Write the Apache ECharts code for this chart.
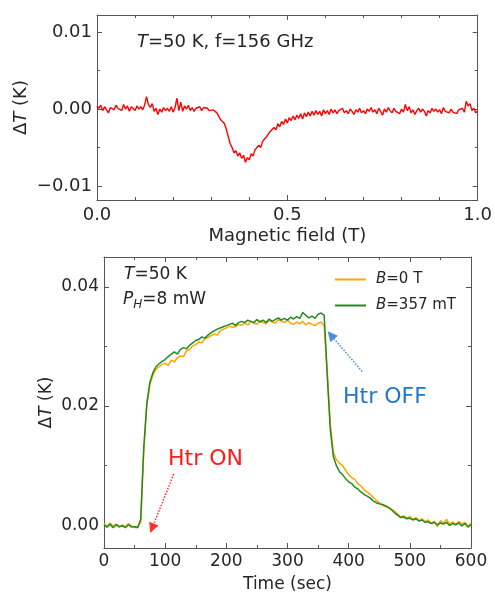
<!DOCTYPE html>
<html>
<head>
<meta charset="utf-8">
<script src="https://cdn.jsdelivr.net/npm/echarts@6/dist/echarts.min.js"></script>
<style>
html,body{margin:0;padding:0;background:#fff;}
#c{width:495px;height:594px;}
</style>
</head>
<body>
<div id="c"></div>
<script>
// ---------- data: top panel (field sweep), dT in units of 1e-4 K ----------
const fieldT = [
0.000,0.005,0.010,0.015,0.020,0.025,0.030,0.035,0.040,0.045,
0.050,0.055,0.060,0.065,0.070,0.075,0.080,0.085,0.090,0.095,
0.100,0.105,0.110,0.115,0.120,0.125,0.130,0.135,0.140,0.145,
0.150,0.155,0.160,0.165,0.170,0.175,0.180,0.185,0.190,0.195,
0.200,0.205,0.210,0.215,0.220,0.225,0.230,0.235,0.240,0.245,
0.250,0.255,0.260,0.265,0.270,0.275,0.280,0.285,0.290,0.295,
0.300,0.305,0.310,0.315,0.320,0.325,0.330,0.335,0.340,0.345,
0.350,0.355,0.360,0.365,0.370,0.375,0.380,0.385,0.390,0.395,
0.400,0.405,0.410,0.415,0.420,0.425,0.430,0.435,0.440,0.445,
0.450,0.455,0.460,0.465,0.470,0.475,0.480,0.485,0.490,0.495,
0.500,0.505,0.510,0.515,0.520,0.525,0.530,0.535,0.540,0.545,
0.550,0.555,0.560,0.565,0.570,0.575,0.580,0.585,0.590,0.595,
0.600,0.605,0.610,0.615,0.620,0.625,0.630,0.635,0.640,0.645,
0.650,0.655,0.660,0.665,0.670,0.675,0.680,0.685,0.690,0.695,
0.700,0.705,0.710,0.715,0.720,0.725,0.730,0.735,0.740,0.745,
0.750,0.755,0.760,0.765,0.770,0.775,0.780,0.785,0.790,0.795,
0.800,0.805,0.810,0.815,0.820,0.825,0.830,0.835,0.840,0.845,
0.850,0.855,0.860,0.865,0.870,0.875,0.880,0.885,0.890,0.895,
0.900,0.905,0.910,0.915,0.920,0.925,0.930,0.935,0.940,0.945,
0.950,0.955,0.960,0.965,0.970,0.975,0.980,0.985,0.990,0.995,
1.000];
const dTField_e4 = [
4,1,5,-2,3,-1,-5,2,4,-1,
5,1,3,-2,6,0,4,-3,3,1,
-2,4,0,3,-1,5,16,6,2,7,
-3,1,-7,0,-4,2,-2,1,-3,3,
-4,2,14,-2,9,-3,4,0,5,-2,
2,-3,1,-1,3,-2,2,0,1,-2,
0,-1,-3,-5,-7,-14,-12,-19,-27,-36,
-45,-50,-57,-54,-61,-57,-64,-60,-69,-63,
-66,-58,-61,-53,-55,-47,-50,-42,-44,-36,
-38,-29,-31,-24,-27,-19,-23,-16,-20,-13,
-18,-11,-15,-9,-14,-8,-12,-6,-13,-5,
-10,-4,-9,-3,-8,-2,-7,-3,-9,-1,
-6,-2,-7,0,-5,-1,-6,-2,-4,1,
-5,-2,-6,0,-3,-7,-1,-4,1,-5,
-2,-6,0,-3,2,-4,-1,-6,1,-3,
-8,0,-4,2,-2,-5,1,-3,-1,-6,
0,-4,6,-2,3,-5,-1,-7,-2,1,
-4,0,-3,-9,-2,-5,1,-3,0,-4,
-1,-6,2,-3,-1,-5,0,-4,-2,-6,
-1,-3,1,-4,10,4,7,-2,1,-5,
-2];

// ---------- data: bottom panel (time trace), dT in K ----------
const timeSec = [0,5,10,15,20,25,30,35,40,45,50,55,60,65,70,75,80,85,90,95,
100,105,110,115,120,125,130,135,140,145,150,155,160,165,170,175,180,185,190,195,
200,205,210,215,220,225,230,235,240,245,250,255,260,265,270,275,280,285,290,295,
300,305,310,315,320,325,330,335,340,345,350,355,360,365,370,375,380,385,390,395,
400,405,410,415,420,425,430,435,440,445,450,455,460,465,470,475,480,485,490,495,
500,505,510,515,520,525,530,535,540,545,550,555,560,565,570,575,580,585,590,595,600];
const dT_B0 = [0.0003,-0.0002,0.0004,-0.0001,0.0002,-0.0003,0.0001,-0.0002,0.0003,-0.0001,-0.0004,-0.0002,0.0005,0.0125,0.0200,0.0236,0.0252,0.0262,0.0266,0.0270,
0.0272,0.0268,0.0277,0.0274,0.0281,0.0284,0.0283,0.0293,0.0295,0.0301,0.0303,0.0308,0.0306,0.0313,0.0315,0.0318,0.0321,0.0319,0.0326,0.0329,
0.0331,0.0334,0.0332,0.0333,0.0337,0.0335,0.0340,0.0336,0.0342,0.0339,0.0337,0.0343,0.0340,0.0338,0.0344,0.0341,0.0339,0.0345,0.0342,0.0340,
0.0344,0.0339,0.0337,0.0341,0.0338,0.0342,0.0336,0.0340,0.0337,0.0335,0.0339,0.0341,0.0334,0.0260,0.0170,0.0122,0.0110,0.0104,0.0100,0.0092,
0.0085,0.0080,0.0077,0.0070,0.0066,0.0060,0.0056,0.0052,0.0047,0.0042,0.0038,0.0034,0.0031,0.0030,0.0027,0.0024,0.0019,0.0014,0.0016,0.0012,
0.0015,0.0010,0.0013,0.0008,0.0011,0.0006,0.0009,0.0003,0.0007,-0.0002,0.0008,0.0004,0.0010,0.0002,0.0006,0.0001,0.0007,0.0002,0.0005,-0.0001,0.0003];
const dT_B357 = [0.0001,-0.0003,0.0002,-0.0004,0.0001,-0.0002,-0.0001,-0.0004,0.0001,-0.0003,-0.0002,-0.0004,0.0010,0.0130,0.0205,0.0240,0.0256,0.0266,0.0271,0.0275,
0.0278,0.0283,0.0287,0.0291,0.0287,0.0295,0.0298,0.0296,0.0302,0.0306,0.0310,0.0312,0.0316,0.0314,0.0319,0.0323,0.0326,0.0329,0.0331,0.0333,
0.0335,0.0337,0.0339,0.0335,0.0340,0.0342,0.0340,0.0344,0.0342,0.0340,0.0345,0.0341,0.0344,0.0340,0.0346,0.0342,0.0345,0.0348,0.0344,0.0347,
0.0344,0.0349,0.0346,0.0350,0.0347,0.0357,0.0352,0.0348,0.0351,0.0347,0.0354,0.0356,0.0352,0.0250,0.0160,0.0115,0.0100,0.0090,0.0085,0.0078,
0.0073,0.0070,0.0064,0.0061,0.0056,0.0052,0.0049,0.0046,0.0041,0.0038,0.0036,0.0035,0.0033,0.0030,0.0026,0.0021,0.0017,0.0013,0.0014,0.0011,
0.0012,0.0009,0.0011,0.0007,0.0009,0.0005,0.0006,0.0003,0.0005,0.0001,0.0004,0.0002,0.0005,0.0000,0.0003,0.0001,0.0004,-0.0001,0.0003,-0.0003,0.0001];

// ---------- tick values ----------
const fieldTicks = [0, 0.5, 1.0];
const fieldMinor = [0.1,0.2,0.3,0.4,0.6,0.7,0.8,0.9];
const dTTopTicks = [-0.01, 0, 0.01];
const dTTopMinor = [-0.005, 0.005];
const timeTicks = [0,100,200,300,400,500,600];
const timeMinor = [50,150,250,350,450,550];
const dTBotTicks = [0, 0.02, 0.04];
const dTBotMinor = [0.01, 0.03];

const FONT = 'DejaVu Sans';
const TXT = '#262626';
const LINE = '#555';
const fmt = d => v => v.toFixed(d).replace('-', '\u2212');

function axis(grid, pos, min, max, vals, len, opts) {
  return Object.assign({
    type: 'value', gridIndex: grid, position: pos, min: min, max: max,
    axisLine: {show: true, onZero: false, lineStyle: {color: LINE, width: 1}},
    axisTick: {show: true, inside: true, length: len, customValues: vals, lineStyle: {color: LINE, width: 1}},
    axisLabel: {show: false},
    splitLine: {show: false},
    silent: true
  }, opts || {});
}
const noLine = {axisLine: {show: false, onZero: false}};

const italic = (fs) => ({fontStyle: 'italic', fontSize: fs, fontFamily: FONT, color: TXT});

const yTopMin = -0.0118, yTopMax = 0.0122;
const yBotMin = -0.0038, yBotMax = 0.045;

const xAxes = [
  axis(0, 'bottom', 0, 1, fieldTicks, 5, {
    axisLabel: {show: true, customValues: fieldTicks, formatter: fmt(1), fontSize: 18, fontFamily: FONT, color: TXT, margin: 6},
    name: 'Magnetic field (T)', nameLocation: 'middle', nameGap: 27, nameMoveOverlap: false,
    nameTextStyle: {fontSize: 18, fontFamily: FONT, color: TXT}
  }),
  axis(0, 'top', 0, 1, fieldTicks, 5),
  axis(0, 'bottom', 0, 1, fieldMinor, 3, noLine),
  axis(0, 'top', 0, 1, fieldMinor, 3, noLine),
  axis(1, 'bottom', 0, 600, timeTicks, 5, {
    axisLabel: {show: true, customValues: timeTicks, formatter: v => String(v), fontSize: 17, fontFamily: FONT, color: TXT, margin: 5},
    name: 'Time (sec)', nameLocation: 'middle', nameGap: 28, nameMoveOverlap: false,
    nameTextStyle: {fontSize: 17, fontFamily: FONT, color: TXT}
  }),
  axis(1, 'top', 0, 600, timeTicks, 5),
  axis(1, 'bottom', 0, 600, timeMinor, 3, noLine),
  axis(1, 'top', 0, 600, timeMinor, 3, noLine)
];

const yAxes = [
  axis(0, 'left', yTopMin, yTopMax, dTTopTicks, 5, {
    axisLabel: {show: true, customValues: dTTopTicks, formatter: fmt(2), fontSize: 18, fontFamily: FONT, color: TXT, margin: 5},
    name: '\u0394{i|T} (K)', nameLocation: 'middle', nameGap: 67, nameRotate: 90, nameMoveOverlap: false,
    nameTextStyle: {fontSize: 18, fontFamily: FONT, color: TXT, rich: {i: italic(18)}}
  }),
  axis(0, 'right', yTopMin, yTopMax, dTTopTicks, 5),
  axis(0, 'left', yTopMin, yTopMax, dTTopMinor, 3, noLine),
  axis(0, 'right', yTopMin, yTopMax, dTTopMinor, 3, noLine),
  axis(1, 'left', yBotMin, yBotMax, dTBotTicks, 5, {
    axisLabel: {show: true, customValues: dTBotTicks, formatter: fmt(2), fontSize: 17, fontFamily: FONT, color: TXT, margin: 5},
    name: '\u0394{i|T} (K)', nameLocation: 'middle', nameGap: 49, nameRotate: 90, nameMoveOverlap: false,
    nameTextStyle: {fontSize: 17, fontFamily: FONT, color: TXT, rich: {i: italic(17)}}
  }),
  axis(1, 'right', yBotMin, yBotMax, dTBotTicks, 5),
  axis(1, 'left', yBotMin, yBotMax, dTBotMinor, 3, noLine),
  axis(1, 'right', yBotMin, yBotMax, dTBotMinor, 3, noLine)
];

const zip = (xs, ys, s) => xs.map((x, i) => [x, ys[i] * s]);

const option = {
  animation: false,
  backgroundColor: '#fff',
  grid: [
    {left: 97, top: 15, width: 382, height: 185},
    {left: 104, top: 257, width: 367, height: 296}
  ],
  xAxis: xAxes,
  yAxis: yAxes,
  legend: {
    orient: 'vertical', left: 330, top: 267, itemWidth: 31, itemHeight: 2, itemGap: 11,
    icon: 'rect',
    data: ['B=0 T', 'B=357 mT'],
    formatter: n => n === 'B=0 T' ? '{i|B}=0 T' : '{i|B}=357 mT',
    textStyle: {fontSize: 15, fontFamily: FONT, color: TXT, padding: [0, 0, 0, 5], rich: {i: italic(15)}},
    selectedMode: false
  },
  series: [
    {
      type: 'line', name: 'field', xAxisIndex: 0, yAxisIndex: 0,
      data: zip(fieldT, dTField_e4, 1e-4), symbol: 'none', silent: true,
      lineStyle: {color: '#ff0000', width: 1.4}
    },
    {
      type: 'line', name: 'B=0 T', xAxisIndex: 4, yAxisIndex: 4,
      data: zip(timeSec, dT_B0, 1), symbol: 'none', silent: true,
      itemStyle: {color: '#ffa500'}, lineStyle: {color: '#ffa500', width: 1.5},
      markLine: {
        silent: true, symbol: ['none', 'triangle'], symbolSize: 10,
        label: {show: false}, emphasis: {disabled: true},
        data: [
          [{coord: [114, 0.0086], lineStyle: {color: '#ff3030', type: 'dotted', width: 1.5}, itemStyle: {color: '#ff1a1a'}},
           {coord: [78.5, -0.0005]}],
          [{coord: [422, 0.0258], lineStyle: {color: '#4a90d6', type: 'dotted', width: 1.5}, itemStyle: {color: '#1f6fc4'}},
           {coord: [371, 0.0319]}]
        ]
      }
    },
    {
      type: 'line', name: 'B=357 mT', xAxisIndex: 4, yAxisIndex: 4,
      data: zip(timeSec, dT_B357, 1), symbol: 'none', silent: true,
      itemStyle: {color: '#228b22'}, lineStyle: {color: '#228b22', width: 1.5}
    }
  ],
  graphic: [
    {type: 'text', x: 137, y: 42, silent: true, style: {
      text: '{i|T}=50 K, f=156 GHz', fontSize: 18, fontFamily: FONT, fill: TXT, verticalAlign: 'middle',
      rich: {i: italic(18)}}},
    {type: 'text', x: 124, y: 275, silent: true, style: {
      text: '{i|T}=50 K', fontSize: 17, fontFamily: FONT, fill: TXT, verticalAlign: 'middle',
      rich: {i: italic(17)}}},
    {type: 'text', x: 123, y: 300, silent: true, style: {
      text: '{i|P}{sub|H}=8 mW', fontSize: 17, fontFamily: FONT, fill: TXT, verticalAlign: 'middle',
      rich: {i: italic(17), sub: {fontStyle: 'italic', fontSize: 12, fontFamily: FONT, color: TXT, padding: [9, 0, 0, 0], verticalAlign: 'bottom'}}}},
    {type: 'text', x: 343, y: 397, silent: true, style: {
      text: 'Htr OFF', fontSize: 22, fontFamily: FONT, fill: '#1f78c8', verticalAlign: 'middle'}},
    {type: 'text', x: 168, y: 459, silent: true, style: {
      text: 'Htr ON', fontSize: 22, fontFamily: FONT, fill: '#ff1a1a', verticalAlign: 'middle'}}
  ]
};

const chart = echarts.init(document.getElementById('c'), null, {renderer: 'canvas'});
chart.setOption(option);
</script>
</body>
</html>
